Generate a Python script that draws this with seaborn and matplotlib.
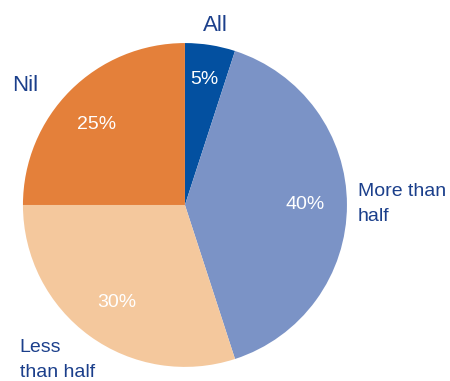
import matplotlib
matplotlib.use("Agg")
import matplotlib.pyplot as plt
import seaborn as sns

categories = ["All", "More than\nhalf", "Less\nthan half", "Nil"]
values = [5, 40, 30, 25]
pct_labels = ["5%", "40%", "30%", "25%"]
colors = ["#0350a0", "#7b93c6", "#f4c89d", "#e4803a"]

sns.set_theme(style="white")
plt.rcParams['font.family'] = ['Liberation Sans', 'DejaVu Sans']

fig = plt.figure(figsize=(4.5, 3.81), dpi=100)
ax = fig.add_axes([0.051, 0.037, 0.72, 0.85])
ax.pie(values, colors=sns.color_palette(colors), startangle=90, counterclock=False,
       wedgeprops=dict(linewidth=0))
ax.set_xlim(-1, 1)
ax.set_ylim(-1, 1)
ax.set_aspect('auto')
ax.axis('off')

navy = "#1b3f8b"
# outside labels
ax.text(0.185, 1.11, categories[0], color=navy, fontsize=16, ha='center', va='center', clip_on=False)
ax.text(1.068, 0.006, categories[1], color=navy, fontsize=14, ha='left', va='center',
        linespacing=1.6, clip_on=False)
ax.text(-1.02, -0.957, categories[2], color=navy, fontsize=14, ha='left', va='center',
        linespacing=1.6, clip_on=False)
ax.text(-0.985, 0.74, categories[3], color=navy, fontsize=16, ha='center', va='center', clip_on=False)

# inner percentage labels
pos = [(0.117, 0.772), (0.74, 0.0), (-0.42, -0.6), (-0.543, 0.494)]
for (x, y), t in zip(pos, pct_labels):
    ax.text(x, y, t, color="white", fontsize=14, ha='center', va='center')

fig.savefig("out.png", dpi=100)
